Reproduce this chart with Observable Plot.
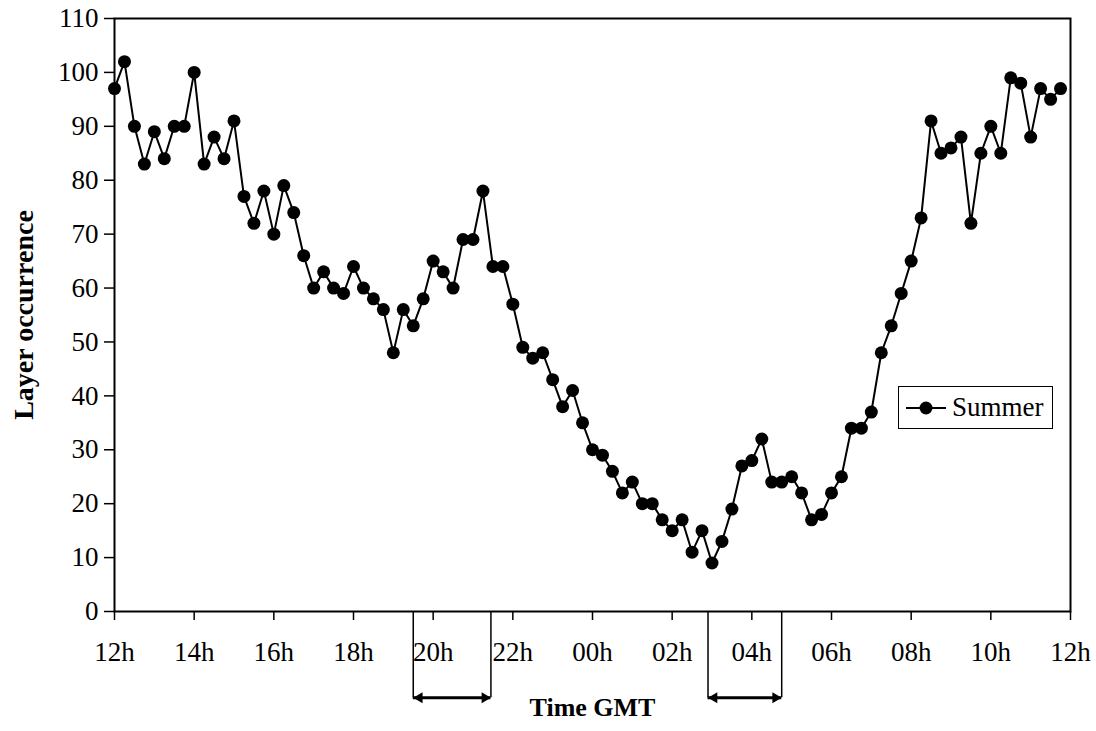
<!DOCTYPE html>
<html><head><meta charset="utf-8">
<script src="https://cdn.jsdelivr.net/npm/d3@7"></script>
<script src="https://cdn.jsdelivr.net/npm/@observablehq/plot@0.6"></script>
<style>
body{margin:0;background:#fff;}
#wrap{position:relative;width:1096px;height:731px;}
#legend{position:absolute;left:898px;top:386px;width:155px;height:43px;box-sizing:border-box;border:1px solid #000;background:#fff;font-family:"Liberation Serif",serif;font-size:27px;display:flex;align-items:center;}
#legend svg{margin-left:7px;margin-right:6px;}
</style></head><body><div id="wrap"></div>
<script>
// Layer occurrence every 15 minutes, from 12:00 GMT to 11:45 GMT next day
const seriesName = "Summer";
const occurrence = [97,102,90,83,89,84,90,90,100,83,88,84,91,77,72,78,70,79,74,66,
  60,63,60,59,64,60,58,56,48,56,53,58,65,63,60,69,69,78,64,64,
  57,49,47,48,43,38,41,35,30,29,26,22,24,20,20,17,15,17,11,15,
  9,13,19,27,28,32,24,24,25,22,17,18,22,25,34,34,37,48,53,59,
  65,73,91,85,86,88,72,85,90,85,99,98,88,97,95,97];
const stepHours = 0.25;
const xTickHours = [0,2,4,6,8,10,12,14,16,18,20,22,24];
const xTickLabels = ["12h","14h","16h","18h","20h","22h","00h","02h","04h","06h","08h","10h","12h"];
const yTicks = [0,10,20,30,40,50,60,70,80,90,100,110];
// marked periods (hours after 12h GMT)
const periodStart = [7.5, 14.9];
const periodEnd = [9.45, 16.75];
const arrowLevel = -16;

const data = occurrence.map((v,i)=>({t:i*stepHours, v}));
const periods = periodStart.map((s,i)=>({start:s, end:periodEnd[i]}));
const edges = periods.flatMap(p=>[p.start,p.end]);

const chart = Plot.plot({
  width:1096, height:731,
  marginLeft:114, marginRight:26, marginTop:18, marginBottom:120,
  style:{fontFamily:"'Liberation Serif', serif", fontSize:"27px", color:"#000", background:"#fff"},
  x:{domain:[0,24]},
  y:{domain:[0,110]},
  marks:[
    Plot.frame({stroke:"#000", strokeWidth:2}),
    Plot.axisY({ticks:yTicks, tickSize:10, tickPadding:6, label:null, strokeWidth:1.5, fontSize:27}),
    Plot.axisX({ticks:xTickHours, tickFormat:(d,i)=>xTickLabels[i], tickSize:9, tickPadding:21, label:null, strokeWidth:1.5, fontSize:27}),
    Plot.ruleX(edges, {x:d=>d, y1:0, y2:arrowLevel, stroke:"#000", strokeWidth:1.5, clip:false}),
    Plot.ruleY(periods, {y:arrowLevel, x1:"start", x2:"end", stroke:"#000", strokeWidth:3, clip:false}),
    Plot.dot(periods, {x:"start", y:arrowLevel, symbol:"triangle", rotate:-90, r:4, dx:6.2, fill:"#000", stroke:null, clip:false}),
    Plot.dot(periods, {x:"end", y:arrowLevel, symbol:"triangle", rotate:90, r:4, dx:-6.2, fill:"#000", stroke:null, clip:false}),
    Plot.line(data, {x:"t", y:"v", stroke:"#000", strokeWidth:2}),
    Plot.dot(data, {x:"t", y:"v", r:6.5, fill:"#000", stroke:null}),
    Plot.text(["Time GMT"], {frameAnchor:"bottom", dy:96, lineAnchor:"middle", textAnchor:"middle", fontWeight:"bold", fontSize:26, fill:"#000"}),
    Plot.text(["Layer occurrence"], {frameAnchor:"left", dx:-90, rotate:-90, textAnchor:"middle", lineAnchor:"middle", fontWeight:"bold", fontSize:28, fill:"#000"})
  ]
});
const wrap = document.getElementById("wrap");
wrap.appendChild(chart);
const lg = document.createElement("div");
lg.id = "legend";
lg.innerHTML = `<svg width="40" height="14"><line x1="0" y1="7" x2="40" y2="7" stroke="#000" stroke-width="2"/><circle cx="20" cy="7" r="6.5" fill="#000"/></svg><span>${seriesName}</span>`;
wrap.appendChild(lg);
</script>
</body></html>
